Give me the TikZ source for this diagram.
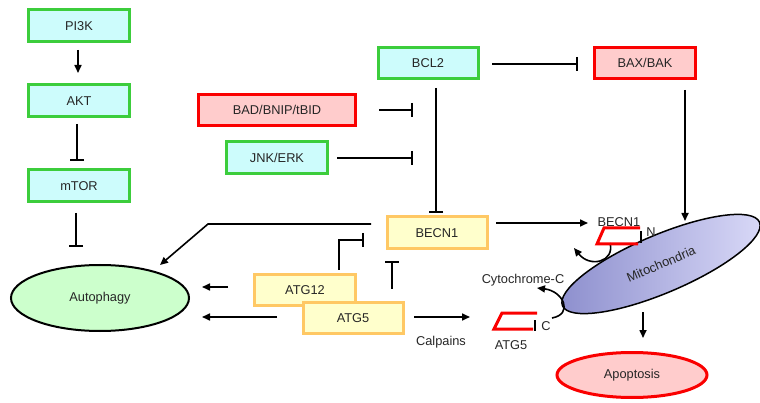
\documentclass[tikz,border=0pt]{standalone}
\usepackage{fontspec}
\setmainfont{Liberation Sans}
\usetikzlibrary{arrows.meta,shapes.geometric}
\definecolor{gbord}{RGB}{60,205,60}
\definecolor{gfill}{RGB}{205,252,252}
\definecolor{rbord}{RGB}{250,0,0}
\definecolor{rfill}{RGB}{255,204,204}
\definecolor{ybord}{RGB}{255,200,100}
\definecolor{yfill}{RGB}{255,255,204}
\definecolor{afill}{RGB}{204,255,204}
\definecolor{mdark}{RGB}{140,142,205}
\definecolor{mlight}{RGB}{218,218,248}
\tikzset{
  lbl/.style={font=\fontsize{12.8}{14}\selectfont, text=black!85},
  box/.style={lbl, draw, line width=3pt, inner sep=0pt},
  gbox/.style={box, draw=gbord, fill=gfill},
  rbox/.style={box, draw=rbord, fill=rfill},
  ybox/.style={box, draw=ybord, fill=yfill},
  act/.style={line width=1.6pt, -{Triangle[length=8pt,width=7pt]}},
  inh/.style={line width=1.6pt, -{Bar[width=14pt,line width=1.8pt]}},
  brk/.style={draw=rbord, line width=3pt},
  bbar/.style={line width=1.5pt},
}
\begin{document}
\begin{tikzpicture}[x=1pt,y=-1pt]
\useasboundingbox (0,0) rectangle (760,403);
\begin{scope}
\clip (0,0) rectangle (760,403);
% nodes
\node[gbox, minimum width=101pt, minimum height=32pt] (pi3k) at (79,26) {PI3K};
\node[gbox, minimum width=101pt, minimum height=32pt] (akt) at (79,101) {AKT};
\node[gbox, minimum width=101pt, minimum height=32pt] (mtor) at (79,186) {mTOR};
\node[gbox, minimum width=100pt, minimum height=31pt] (bcl2) at (428,63) {BCL2};
\node[rbox, minimum width=157pt, minimum height=31pt] (bad) at (277,110) {BAD/BNIP/tBID};
\node[gbox, minimum width=101pt, minimum height=32pt] (jnk) at (277,158) {JNK/ERK};
\node[rbox, minimum width=101pt, minimum height=31pt] (bax) at (645,63) {BAX/BAK};
\node[ybox, minimum width=100pt, minimum height=32pt] (becn1) at (437,233) {BECN1};
\node[ybox, minimum width=101pt, minimum height=31pt] (atg12) at (305,290) {ATG12};
\node[ybox, minimum width=100pt, minimum height=31pt] (atg5) at (353,318) {ATG5};
\node[lbl, ellipse, draw, line width=2pt, fill=afill, minimum width=178pt, minimum height=66pt, inner sep=0pt] (autoph) at (100,298) {Autophagy};
\node[lbl, ellipse, draw=rbord, line width=3pt, fill=rfill, minimum width=150pt, minimum height=45pt, inner sep=0pt] (apopt) at (632,375) {Apoptosis};
\node[lbl, ellipse, draw, line width=1.5pt, left color=mdark, right color=mlight, minimum width=214pt, minimum height=58pt, inner sep=0pt, rotate=23] (mito) at (661,264) {Mitochondria};
% labels
\node[lbl] (calp) at (441,342) {Calpains};
\node[lbl] (cytc) at (523,280) {Cytochrome-C};
\node[lbl] (atg5l) at (511,345) {ATG5};
\node[lbl] (cl) at (546,326) {C};
\node[lbl] (becn1l) at (619,222) {BECN1};
\node[lbl] (nl) at (651,232) {N};
% coordinates
\coordinate (c1a) at (78,50);  \coordinate (c1b) at (78,73);
\coordinate (c2a) at (77,124); \coordinate (c2b) at (77,161);
\coordinate (c3a) at (76,213); \coordinate (c3b) at (76,247);
\coordinate (c4a) at (379,110); \coordinate (c4b) at (413,110);
\coordinate (c5a) at (337,158); \coordinate (c5b) at (413,158);
\coordinate (c6a) at (436,88);  \coordinate (c6b) at (436,213);
\coordinate (c7a) at (492,64);  \coordinate (c7b) at (578,64);
\coordinate (c8a) at (685,90);  \coordinate (c8b) at (685,221);
\coordinate (c9a) at (496,223); \coordinate (c9b) at (588,223);
\coordinate (c10a) at (371,224); \coordinate (c10m) at (208,224); \coordinate (c10b) at (160,265);
\coordinate (c11a) at (339,270); \coordinate (c11m) at (339,240); \coordinate (c11b) at (364,240);
\coordinate (c12a) at (392,289); \coordinate (c12b) at (392,261);
\coordinate (c13a) at (228,287); \coordinate (c13b) at (202,287);
\coordinate (c14a) at (277,317); \coordinate (c14b) at (202,317);
\coordinate (c15a) at (414,317); \coordinate (c15b) at (470,317);
\coordinate (c16a) at (643,312); \coordinate (c16b) at (643,338);
\coordinate (c17a) at (610,243); \coordinate (c17b) at (574,248);
\coordinate (c18a) at (552,318); \coordinate (c18b) at (537,288);
% connectors
\draw[act] (c1a) -- (c1b);
\draw[inh] (c2a) -- (c2b);
\draw[inh] (c3a) -- (c3b);
\draw[inh] (c4a) -- (c4b);
\draw[inh] (c5a) -- (c5b);
\draw[inh] (c6a) -- (c6b);
\draw[inh] (c7a) -- (c7b);
\draw[act] (c8a) -- (c8b);
\draw[act] (c9a) -- (c9b);
\draw[act] (c10a) -- (c10m) -- (c10b);
\draw[inh] (c11a) -- (c11m) -- (c11b);
\draw[inh] (c12a) -- (c12b);
\draw[act] (c13a) -- (c13b);
\draw[act] (c14a) -- (c14b);
\draw[act] (c15a) -- (c15b);
\draw[act] (c16a) -- (c16b);
\draw[act] (c17a) .. controls (615,262) and (590,268) .. (c17b);
\draw[act] (c18a) .. controls (574,314) and (563,291) .. (c18b);
% brackets
\draw[brk] (640,228) -- (604,228) -- (597,244) -- (638,244);
\draw[bbar] (641,231) -- (641,243);
\draw[brk] (537,313) -- (502,313) -- (494,329) -- (533,329);
\draw[bbar] (535,320) -- (535,331);
\end{scope}
\end{tikzpicture}
\end{document}
